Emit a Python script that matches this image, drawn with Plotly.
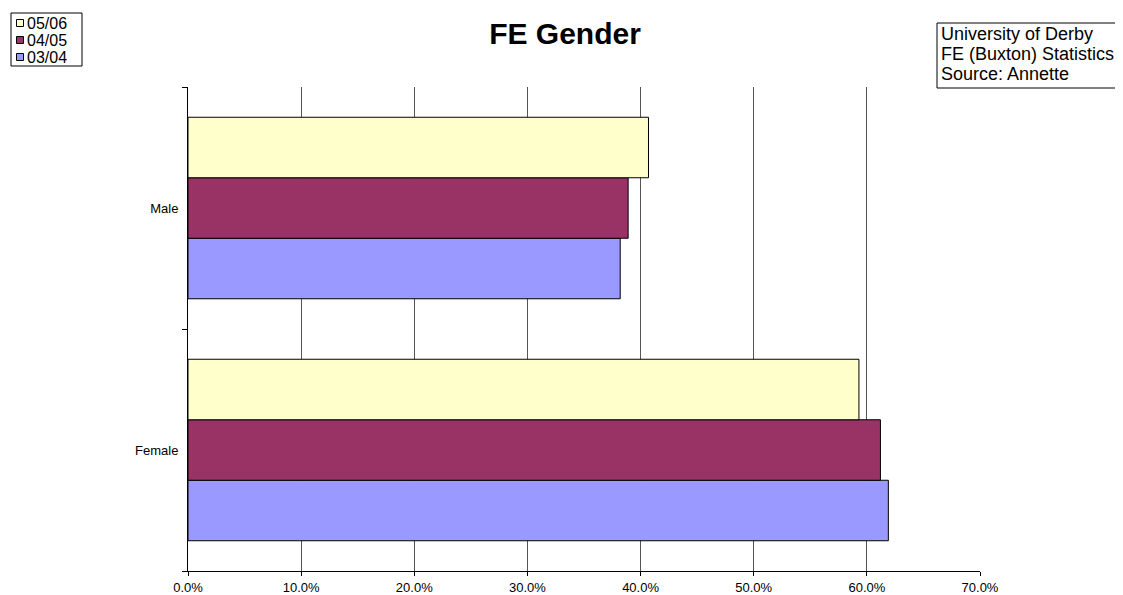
import plotly.graph_objects as go

categories = ["Female", "Male"]
series_names = ["03/04", "04/05", "05/06"]
values_0304 = [0.619, 0.382]
values_0405 = [0.612, 0.389]
values_0506 = [0.593, 0.407]
colors = ["#9999FF", "#993366", "#FFFFCC"]
x_ticks = [0, 0.1, 0.2, 0.3, 0.4, 0.5, 0.6, 0.7]
info_lines = ["University of Derby", "FE (Buxton) Statistics", "Source: Annette"]

# the page body has an 8px margin; work in screen pixels and shift
OFF = 8
W, H = 1123 - OFF, 595 - OFF
L, R, T, B = 188 - OFF, 980 - OFF, 87 - OFF, 571 - OFF
PW, PH = R - L, B - T


def px(x):
    return (x - OFF - L) / PW


def py(y):
    return (B - (y - OFF)) / PH


fig = go.Figure()
for name, vals, col in zip(series_names, [values_0304, values_0405, values_0506], colors):
    fig.add_trace(go.Bar(
        y=categories, x=vals, name=name, orientation="h",
        marker=dict(color=col, line=dict(color="black", width=1)),
        showlegend=False,
    ))

fig.update_layout(
    width=W, height=H,
    barmode="group", bargap=0.25, bargroupgap=0,
    plot_bgcolor="white", paper_bgcolor="white",
    margin=dict(l=L, r=W - R, t=T, b=H - B, autoexpand=False),
    font=dict(family="Arial, Liberation Sans, sans-serif", color="black"),
    title=dict(text="<b>FE Gender</b>", x=px(565), xref="paper", xanchor="center",
               y=1 - (33 - OFF) / H, yanchor="middle", font=dict(size=30, color="black")),
    showlegend=False,
)
fig.update_xaxes(range=[0, 0.7], tickvals=x_ticks, tickformat=".1%",
                 showgrid=True, gridcolor="#555555", gridwidth=1,
                 showline=True, linecolor="black", linewidth=1,
                 ticks="outside", ticklen=4, tickcolor="black",
                 tickfont=dict(size=13), zeroline=False, fixedrange=True)
fig.update_yaxes(categoryorder="array", categoryarray=categories,
                 showline=True, linecolor="black", linewidth=1,
                 ticks="outside", ticklen=5, tickcolor="black", tickson="boundaries",
                 ticklabelstandoff=6,
                 tickfont=dict(size=13), showgrid=False, fixedrange=True)

# custom legend box (top-left)
fig.add_shape(type="rect", xref="paper", yref="paper",
              x0=px(11), x1=px(82), y0=py(66), y1=py(13),
              line=dict(color="black", width=1), fillcolor="white", layer="above")
legend_rows = [23, 40, 57]
for row_y, idx in zip(legend_rows, [2, 1, 0]):
    fig.add_shape(type="rect", xref="paper", yref="paper",
                  x0=px(16.5), x1=px(23.5), y0=py(row_y + 3.5), y1=py(row_y - 3.5),
                  line=dict(color="black", width=1), fillcolor=colors[idx], layer="above")
    fig.add_annotation(text=series_names[idx], xref="paper", yref="paper",
                       x=px(24.5), y=py(row_y), xanchor="left", yanchor="middle",
                       showarrow=False, font=dict(size=16, color="black"))

# info box (top-right)
fig.add_shape(type="rect", xref="paper", yref="paper",
              x0=px(937), x1=px(1130), y0=py(88), y1=py(23),
              line=dict(color="black", width=1), fillcolor="white", layer="above")
for line_y, txt in zip([33.5, 54, 74], info_lines):
    fig.add_annotation(text=txt, xref="paper", yref="paper",
                       x=px(939), y=py(line_y), xanchor="left", yanchor="middle",
                       showarrow=False, font=dict(size=18, color="black"))

fig.write_html("out.html")
